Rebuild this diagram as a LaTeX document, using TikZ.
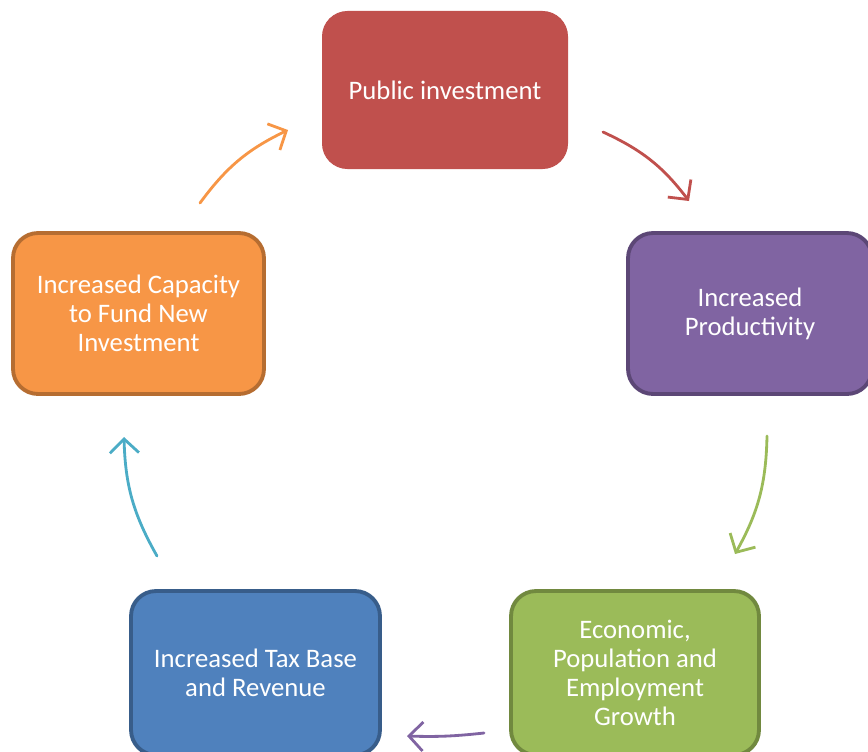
\documentclass[tikz,border=0pt]{standalone}
\usepackage{fontspec}
\setmainfont{Carlito}
\usetikzlibrary{arrows.meta}

\definecolor{pubred}{HTML}{C0504D}
\definecolor{prodpurple}{HTML}{8064A2}
\definecolor{prodedge}{HTML}{5C4776}
\definecolor{growgreen}{HTML}{9BBB59}
\definecolor{growedge}{HTML}{71893F}
\definecolor{taxblue}{HTML}{4F81BD}
\definecolor{taxedge}{HTML}{385D8A}
\definecolor{caporange}{HTML}{F79646}
\definecolor{capedge}{HTML}{B66D31}
\definecolor{arrowblue}{HTML}{4BACC6}

\tikzset{
  stagebox/.style={rounded corners=0.5cm, line width=2.2pt, align=center,
    text=white, font=\fontsize{15.2}{16.5}\selectfont, inner sep=0pt},
  cyclearrow/.style={line width=1.6pt, line cap=round,
    -{Straight Barb[length=2.8mm, width=5.8mm, line width=1.6pt]}}
}

\begin{document}
\begin{tikzpicture}[x=0.02cm, y=-0.02cm]
    \useasboundingbox (0,0) rectangle (868,751);
    \clip (0,0) rectangle (868,751);

    % the five stages of the cycle
    \node[stagebox, fill=pubred, draw=pubred, line width=0.6pt, minimum width=4.9cm, minimum height=3.14cm]
        (pub) at (445,90) {Public investment};
    \node[stagebox, fill=prodpurple, draw=prodedge, minimum width=4.88cm, minimum height=3.22cm]
        (prod) at (750,313.5) {Increased\\Productivity};
    \node[stagebox, fill=growgreen, draw=growedge, minimum width=4.96cm, minimum height=3.28cm]
        (grow) at (635,673) {Economic,\\Population and\\Employment\\Growth};
    \node[stagebox, fill=taxblue, draw=taxedge, minimum width=4.98cm, minimum height=3.28cm]
        (tax) at (255.5,673) {Increased Tax Base\\and Revenue};
    \node[stagebox, fill=caporange, draw=capedge, minimum width=5.02cm, minimum height=3.22cm]
        (cap) at (138.5,313.5) {Increased Capacity\\to Fund New\\Investment};

    % arrow ends between the boxes
    \coordinate (pubout) at (603,132);
    \coordinate (prodin) at (689,201);
    \coordinate (prodout) at (767,436);
    \coordinate (growin) at (735,554);
    \coordinate (growout) at (484,733);
    \coordinate (taxin) at (407,736);
    \coordinate (taxout) at (157,556);
    \coordinate (capin) at (124,437);
    \coordinate (capout) at (200,203);
    \coordinate (pubin) at (288,130);

    \draw[cyclearrow, pubred] (pubout) to[bend left=14] (prodin);
    \draw[cyclearrow, growgreen] (prodout) to[bend left=14] (growin);
    \draw[cyclearrow, prodpurple] (growout) to[bend left=4] (taxin);
    \draw[cyclearrow, arrowblue] (taxout) to[bend left=14] (capin);
    \draw[cyclearrow, caporange] (capout) to[bend left=14] (pubin);
\end{tikzpicture}
\end{document}
